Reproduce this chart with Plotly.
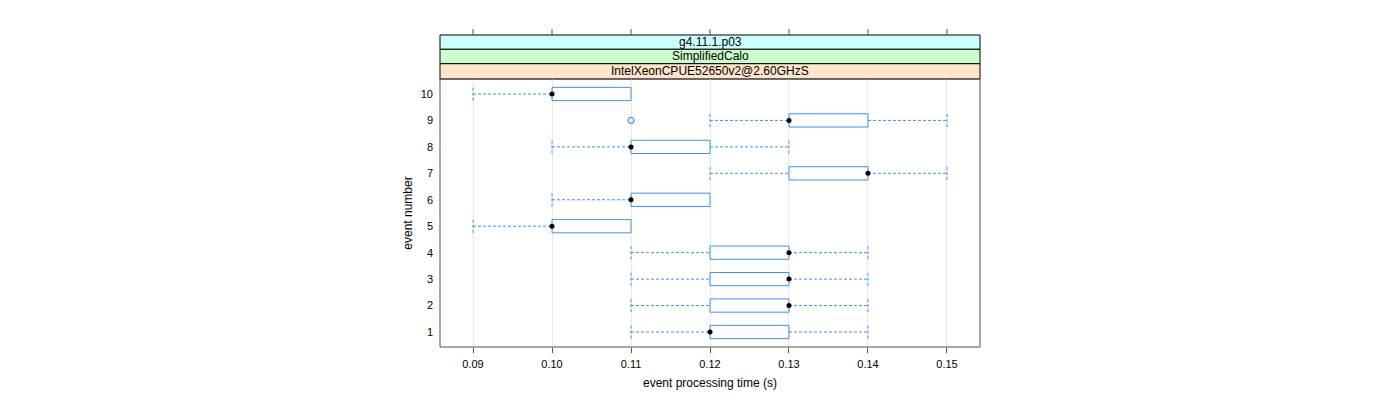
import plotly.graph_objects as go

events = [1, 2, 3, 4, 5, 6, 7, 8, 9, 10]
lower_whisker = [0.11, 0.11, 0.11, 0.11, 0.09, 0.10, 0.12, 0.10, 0.12, 0.09]
q1 = [0.12, 0.12, 0.12, 0.12, 0.10, 0.11, 0.13, 0.11, 0.13, 0.10]
median = [0.12, 0.13, 0.13, 0.13, 0.10, 0.11, 0.14, 0.11, 0.13, 0.10]
q3 = [0.13, 0.13, 0.13, 0.13, 0.11, 0.12, 0.14, 0.12, 0.14, 0.11]
upper_whisker = [0.14, 0.14, 0.14, 0.14, 0.11, 0.12, 0.15, 0.13, 0.15, 0.11]
outlier_event = [9]
outlier_value = [0.11]
x_ticks = [0.09, 0.10, 0.11, 0.12, 0.13, 0.14, 0.15]
strip_labels = ["g4.11.1.p03", "SimplifiedCalo", "IntelXeonCPUE52650v2@2.60GHzS"]
strip_colors = ["#ccffff", "#ccffcc", "#ffe5cc"]

BLUE = "#3894f5"
H = 0.25
FONT = "Liberation Sans, Arial, sans-serif"

# boxes
bx, by = [], []
for e, a, b in zip(events, q1, q3):
    bx += [a, b, b, a, a, None]
    by += [e - H, e - H, e + H, e + H, e - H, None]

# whiskers (dashed) with caps
wx, wy = [], []
for e, lo, a, b, hi in zip(events, lower_whisker, q1, q3, upper_whisker):
    if lo < a:
        wx += [lo, a, None, lo, lo, None]
        wy += [e, e, None, e - H, e + H, None]
    if hi > b:
        wx += [b, hi, None, hi, hi, None]
        wy += [e, e, None, e - H, e + H, None]

fig = go.Figure()
fig.add_trace(go.Scatter(x=wx, y=wy, mode="lines",
                         line=dict(color=BLUE, width=1, dash="3px,2px"),
                         hoverinfo="skip", showlegend=False))
fig.add_trace(go.Scatter(x=bx, y=by, mode="lines",
                         line=dict(color=BLUE, width=1),
                         hoverinfo="skip", showlegend=False))
fig.add_trace(go.Scatter(x=median, y=events, mode="markers",
                         marker=dict(color="black", size=5),
                         showlegend=False))
fig.add_trace(go.Scatter(x=outlier_value, y=outlier_event, mode="markers",
                         marker=dict(color=BLUE, size=6, symbol="circle-open",
                                     line=dict(color=BLUE, width=1.2)),
                         showlegend=False))

XR = [0.08582, 0.15418]
PANEL_TOP = 0.859
strip_bounds = [1.0, 0.9542, 0.9080, PANEL_TOP]
PLOT_H = 312.0

shapes = []
for i, (lab, col) in enumerate(zip(strip_labels, strip_colors)):
    shapes.append(dict(type="rect", xref="paper", yref="paper", x0=0, x1=1,
                       y0=strip_bounds[i + 1], y1=strip_bounds[i],
                       fillcolor=col, line=dict(color="black", width=1), layer="below"))
shapes.append(dict(type="rect", xref="paper", yref="paper", x0=0, x1=1,
                   y0=0, y1=PANEL_TOP, line=dict(color="#555555", width=1)))
# top axis ticks above the strips
for t in x_ticks:
    shapes.append(dict(type="line", xref="x", yref="paper", x0=t, x1=t,
                       y0=1.0, y1=1.0 + 6 / PLOT_H,
                       line=dict(color="#555555", width=1)))

annotations = []
for i, lab in enumerate(strip_labels):
    annotations.append(dict(text=lab, xref="paper", yref="paper", x=0.5,
                            y=(strip_bounds[i] + strip_bounds[i + 1]) / 2,
                            showarrow=False, font=dict(family=FONT, size=12, color="black"),
                            xanchor="center", yanchor="middle"))

fig.update_layout(
    width=1400, height=400,
    margin=dict(l=432, r=428, t=27, b=61, autoexpand=False),
    paper_bgcolor="white", plot_bgcolor="white",
    font=dict(family=FONT, size=11, color="black"),
    shapes=shapes, annotations=annotations,
    xaxis=dict(range=XR, domain=[0, 1], tickvals=x_ticks, tickformat=".2f",
               ticks="outside", ticklen=5, tickcolor="#555555",
               ticklabelstandoff=2,
               showgrid=True, gridcolor="#e8e8e8", gridwidth=1,
               showline=False, zeroline=False, automargin=False,
               title=dict(text="event processing time (s)", font=dict(size=12), standoff=9),
               anchor="y"),
    yaxis=dict(range=[0.433, 10.567], domain=[0, PANEL_TOP], tickvals=events,
               ticks="", showgrid=False, zeroline=False, showline=False,
               ticklabelstandoff=6, automargin=False,
               title=dict(text="event number", font=dict(size=12), standoff=5)),
)

fig.write_html("out.html")
